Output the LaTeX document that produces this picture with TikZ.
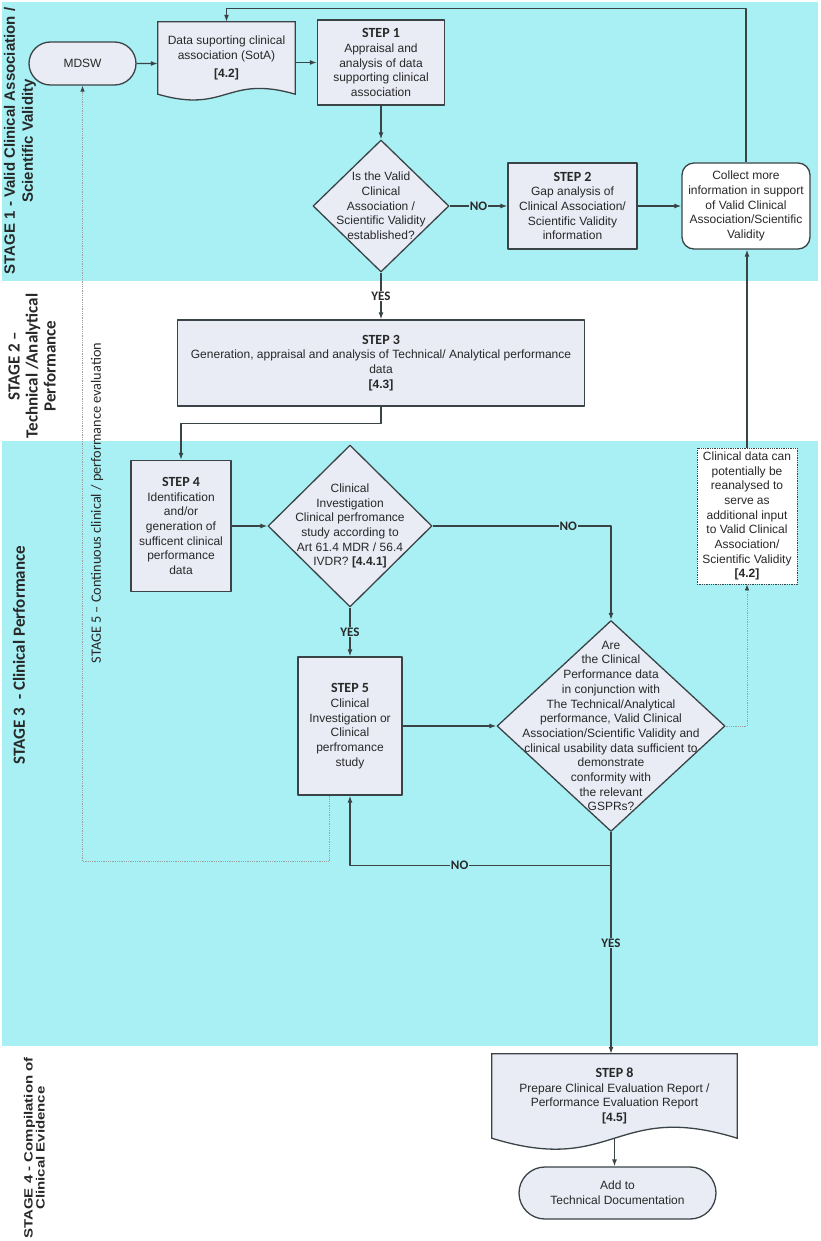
\documentclass[tikz,border=0pt]{standalone}
\usepackage{fontspec}
\setmainfont{Liberation Sans}
\newfontfamily\calib{Carlito}
\usepackage{graphicx}
\usetikzlibrary{shapes.geometric,shapes.misc,arrows.meta,calc,backgrounds}
\definecolor{band}{RGB}{168,240,244}
\definecolor{boxfill}{RGB}{233,236,245}
\definecolor{edge}{RGB}{58,68,70}
\definecolor{txt}{RGB}{40,40,40}
\newcommand{\stephead}[1]{{\calib\bfseries\fontsize{14}{16}\selectfont STEP #1}}
\begin{document}
\begin{tikzpicture}[x=1pt,y=-1pt,>={Latex[length=7pt,width=5pt]}, line join=round,
	font=\fontsize{12}{14.7}\selectfont,
	every node/.style={text=txt},
	box/.style={draw=edge,fill=boxfill,line width=1.3pt,align=center,inner sep=1pt},
	term/.style={box,rounded rectangle,rounded rectangle arc length=180},
	decision/.style={box,diamond,inner sep=0pt},
	doctext/.style={align=center,inner sep=0pt},
	docline/.style={draw=edge,fill=boxfill,line width=1.3pt},
	flow/.style={->,draw=edge,line width=1.3pt},
	hint/.style={-{Latex[length=6pt,width=4.5pt,color=edge]},draw=gray!75,line width=0.8pt,densely dotted},
	yn/.style={font=\calib\bfseries\fontsize{13}{13}\selectfont,inner sep=1pt},
	stage/.style={rotate=90,align=center,font=\bfseries\fontsize{15}{18}\selectfont},
	calibstage/.style={stage,font=\calib\bfseries\fontsize{17}{18}\selectfont}]
	\useasboundingbox (0,0) rectangle (820,1241);
	\begin{scope}[on background layer]
		\fill[white] (0,0) rectangle (820,1241);
		\fill[band] (2,2) rectangle (818,281);
		\fill[band] (2,441) rectangle (818,1046);
	\end{scope}
	% stage labels
	\node[stage] (stage1) at (20,141) {STAGE 1 - Valid Clinical Association /\\Scientific Validity};
	\node[calibstage] (stage2) at (32,366) {STAGE 2 –\\Technical /Analytical\\Performance};
	\node[calibstage] (stage3) at (19,655) {STAGE 3 \ - Clinical Performance};
	\node[stage,font=\bfseries\fontsize{12}{11}\selectfont] (stage4) at (36,1148)
		{\scalebox{1.25}[1]{\begin{tabular}{@{}c@{}}STAGE 4 - Compilation of\\Clinical Evidence\end{tabular}}};
	\node[rotate=90,font=\calib\fontsize{14.3}{14}\selectfont] (stage5) at (97,503) {STAGE 5 – Continuous clinical / performance evaluation};
	% stage 1
	\node[term,minimum width=109pt,minimum height=43pt] (mdsw) at (82.5,63.5) {MDSW};
	\node[doctext,minimum width=137pt,minimum height=72pt] (sota) at (226.5,58) {Data suporting clinical\\association (SotA)\\[3pt]\textbf{[4.2]}};
	\node[box,minimum width=127pt,minimum height=85pt] (step1) at (381,62.5) {\stephead{1}\\Appraisal and\\analysis of data\\supporting clinical\\association};
	\node[decision,minimum width=136pt,minimum height=132pt] (valid) at (381,206) {};
	\node[align=center] (validtxt) at (valid) {Is the Valid\\Clinical\\Association /\\Scientific Validity\\established?};
	\node[box,minimum width=129pt,minimum height=86pt] (gap) at (572.5,206) {\stephead{2}\\Gap analysis of\\Clinical Association/\\Scientific Validity\\information};
	\node[box,fill=white,rounded corners=12pt,minimum width=128pt,minimum height=86pt] (collect) at (746,206) {Collect more\\information in support\\of Valid Clinical\\Association/Scientific\\Validity};
	% stage 2
	\node[box,minimum width=407pt,minimum height=86pt] (techperf) at (381,363) {\stephead{3}\\Generation, appraisal and analysis of Technical/ Analytical performance\\data\\\textbf{[4.3]}};
	% stage 3
	\node[box,minimum width=100pt,minimum height=131pt] (step4) at (181,526) {\stephead{4}\\Identification\\and/or\\generation of\\sufficent clinical\\performance\\data};
	\node[decision,minimum width=164pt,minimum height=162pt] (cistudy) at (350,526) {};
	\node[align=center] (cistudytxt) at (cistudy) {Clinical\\Investigation\\Clinical perfromance\\study according to\\Art 61.4 MDR / 56.4\\IVDR? \textbf{[4.4.1]}};
	\node[box,fill=white,densely dotted,line width=0.8pt,minimum width=100pt,minimum height=136pt] (reuse) at (747,516) {Clinical data can\\potentially be\\reanalysed to\\serve as\\additional input\\to Valid Clinical\\Association/\\Scientific Validity\\\textbf{[4.2]}};
	\node[box,minimum width=104pt,minimum height=138pt] (step5) at (350,726) {\stephead{5}\\Clinical\\Investigation or\\Clinical\\perfromance\\study};
	\node[decision,minimum width=228pt,minimum height=211pt] (gspr) at (611,726) {};
	\node[align=center] (gsprtxt) at (gspr) {Are\\the Clinical\\Performance data\\in conjunction with\\The Technical/Analytical\\performance, Valid Clinical\\Association/Scientific Validity and\\clinical usability data sufficient to\\demonstrate\\conformity with\\the relevant\\GSPRs?};
	% stage 4
	\node[doctext,minimum width=245pt,minimum height=84pt] (cer) at (614.5,1096) {\stephead{8}\\Prepare Clinical Evaluation Report /\\Performance Evaluation Report\\\textbf{[4.5]}};
	\node[term,minimum width=199pt,minimum height=52pt] (techdoc) at (617.5,1193) {Add to\\Technical Documentation};
	\begin{scope}[on background layer]
		\foreach \dn/\w in {sota/20,cer/38}
			\draw[docline] (\dn.south west) -- (\dn.north west) -- (\dn.north east) -- (\dn.south east)
				.. controls ($(\dn.south)+(0,-\w)$) and ($(\dn.south)+(0,\w)$) .. (\dn.south west) -- cycle;
	\end{scope}
	% connectors
	\draw[flow] (mdsw) -- (mdsw -| sota.west);
	\draw[flow] (sota.east |- step1) -- (step1.west);
	\draw[flow] (step1) -- (valid);
	\draw[flow] (valid) -- node[yn,fill=band]{NO} (gap);
	\draw[flow] (gap) -- (collect);
	\draw[flow] (collect.north) |- ($(sota.north)+(0,-13)$) -| (sota.north);
	\draw[flow] (reuse) -- (reuse |- collect.south);
	\draw[flow] (valid) -- node[yn,fill=white]{YES} (techperf);
	\draw[flow] (techperf.south) -- ++(0,17) -| (step4.north);
	\draw[flow] (step4) -- (cistudy);
	\draw[flow] (cistudy.east) -| node[yn,fill=band,pos=0.38]{NO} (gspr.north);
	\draw[flow] (cistudy) -- node[yn,fill=band]{YES} (step5);
	\draw[flow] (step5) -- (gspr);
	\coordinate (loopno) at ($(gspr.south)+(0,33)$);
	\draw[flow] (gspr.south) -- (loopno) -| node[yn,fill=band,pos=0.29]{NO} (step5.south);
	\draw[flow] (gspr.south) -- node[yn,fill=band]{YES} (gspr.south |- cer.north);
	\draw[flow] (cer.south) -- (cer.south |- techdoc.north);
	\draw[hint] ($(step5.south)+(-21,0)$) -- ++(0,66) -| (mdsw.south);
	\draw[hint] (gspr.east) -| (reuse.south);
\end{tikzpicture}
\end{document}
